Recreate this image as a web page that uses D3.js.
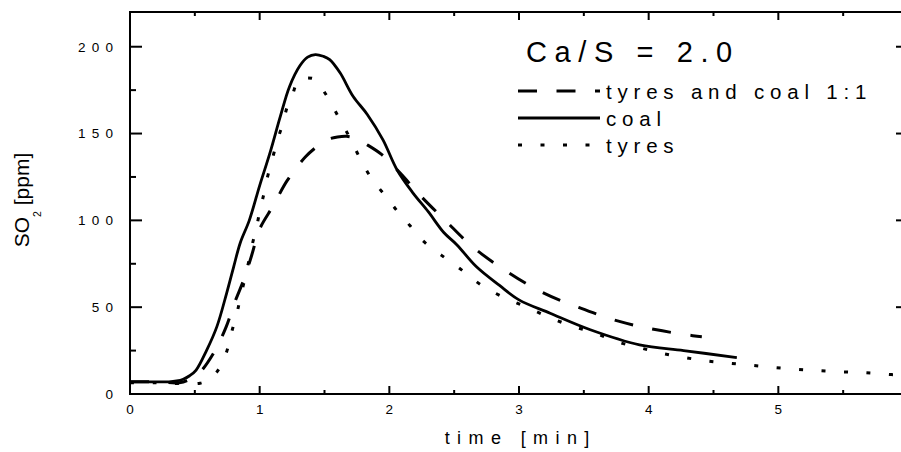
<!DOCTYPE html>
<html><head><meta charset="utf-8">
<script src="https://cdn.jsdelivr.net/npm/d3@7"></script>
<style>
body{margin:0;background:#fff}
svg{display:block}
text{font-family:"Liberation Sans",Arial,sans-serif;fill:#000}
</style>
</head><body>
<svg id="c" width="901" height="452"></svg>
<script>
// ---- data ----
const coalT = [0, 0.15, 0.3, 0.36, 0.41, 0.46, 0.51, 0.59, 0.67, 0.745, 0.8, 0.85, 0.92, 1.0, 1.08, 1.16, 1.23, 1.31, 1.37, 1.43, 1.49, 1.54, 1.62, 1.72, 1.83, 1.95, 2.06, 2.18, 2.3, 2.42, 2.52, 2.67, 2.85, 3.0, 3.24, 3.55, 3.93, 4.27, 4.68];
const coalY = [7, 7, 7, 7.5, 8.5, 10.5, 13.8, 25, 38.8, 58, 73.4, 87, 100, 120, 139, 160, 177, 189, 194, 195.5, 194.5, 192.6, 185, 171.5, 161, 146.5, 129, 116, 105, 93, 86, 73.4, 62.5, 54.2, 46.5, 37, 28.3, 25, 21];

const tyresT = [0, 0.2, 0.37, 0.54, 0.6, 0.668, 0.727, 0.763, 0.79, 0.823, 0.848, 0.9, 0.948, 0.977, 1.0, 1.028, 1.05, 1.08, 1.11, 1.145, 1.18, 1.21, 1.255, 1.3, 1.37, 1.43, 1.51, 1.575, 1.637, 1.696, 1.753, 1.81, 1.884, 1.974, 2.064, 2.16, 2.26, 2.4, 2.557, 2.706, 2.878, 3.058, 3.233, 3.405, 3.578, 3.75, 3.93, 4.1, 4.28, 4.447, 4.626, 4.8, 4.97, 5.15, 5.32, 5.5, 5.67, 5.85, 5.92];
const tyresY = [6.5, 6.5, 6, 6.2, 8, 12.5, 20.6, 28.8, 37.3, 45.9, 54.5, 71, 87.7, 96.4, 105, 113.8, 121.9, 130.5, 138.8, 148, 156, 164.8, 172.8, 181, 182, 181, 172.6, 164, 155.5, 147.5, 138.8, 130.5, 121.9, 113.8, 105.1, 96.9, 88.2, 80, 71.5, 62.9, 55.8, 50, 44.2, 39.2, 35.4, 30.2, 26.7, 23.5, 21, 19, 17.7, 16.5, 15.2, 14.2, 13.4, 12.7, 12.3, 11.3, 11];

const mixT = [0, 0.2, 0.38, 0.45, 0.527, 0.648, 0.74, 0.81, 0.882, 0.938, 1.0, 1.105, 1.213, 1.352, 1.45, 1.52, 1.6, 1.67, 1.75, 1.81, 1.94, 2.08, 2.25, 2.436, 2.637, 2.891, 3.18, 3.47, 3.76, 4.05, 4.34, 4.41];
const mixY = [7, 7, 6.5, 8, 11.5, 24, 38.4, 53.2, 66.7, 79.8, 95, 108.5, 123, 136.5, 143, 146.5, 148, 148.4, 147, 144.4, 138, 127.5, 113.4, 99.6, 85.1, 71.3, 58.5, 49.6, 42.1, 37.1, 33.6, 33];

const xMajor = [0, 1, 2, 3, 4, 5, 6];
const xMinor = [0.5, 1.5, 2.5, 3.5, 4.5, 5.5];
const xTickLabels = ["0", "1", "2", "3", "4", "5"];
const yMajor = [0, 50, 100, 150, 200];
const yMinor = [25, 75, 125, 175];
const yTickLabels = ["0", "50", "100", "150", "200"];
const seriesNames = ["tyres and coal 1:1", "coal", "tyres"];
const titleText = "Ca/S = 2.0";
const xTitle = "time [min]";

// ---- layout ----
const svg = d3.select("#c");
const L = 130, R = 908, T = 12, B = 394;
const x = d3.scaleLinear().domain([0, 6]).range([L, R]);
const y = d3.scaleLinear().domain([0, 220]).range([B, T]);

const styles = {
  mix:   {dash: "19,19.5", w: 3},
  coal:  {dash: null, w: 2.8},
  tyres: {dash: "4,18.5", w: 3}
};

svg.append("defs").append("clipPath").attr("id", "clip")
  .append("rect").attr("x", L).attr("y", T).attr("width", R - L).attr("height", B - T);

// frame
svg.append("rect").attr("x", L).attr("y", T).attr("width", R - L).attr("height", B - T)
  .attr("fill", "none").attr("stroke", "#000").attr("stroke-width", 2);

// tick labels
svg.selectAll(null).data(xTickLabels).join("text")
  .attr("x", d => x(+d)).attr("y", 414).attr("text-anchor", "middle")
  .attr("font-size", 13.5).text(d => d);
const yls = 6.2;
svg.selectAll(null).data(yTickLabels).join("text")
  .attr("x", 113 + yls).attr("y", d => y(+d) + 4.8).attr("text-anchor", "end")
  .attr("font-size", 13.5).attr("letter-spacing", yls).text(d => d);

// axis titles
svg.append("text").attr("x", 517 + 3.7).attr("y", 444).attr("text-anchor", "middle")
  .attr("font-size", 18).attr("letter-spacing", 7.4).text(xTitle);
const yt = svg.append("text").attr("transform", "translate(28.5,200) rotate(-90)")
  .attr("text-anchor", "middle").attr("font-size", 21);
yt.append("tspan").text("SO");
yt.append("tspan").attr("font-size", 10.5).attr("dy", 12).text("2");
yt.append("tspan").attr("dy", -12).text(" [ppm]");

// curves
const line = d3.line().x(d => x(d[0])).y(d => y(d[1])).curve(d3.curveCatmullRom.alpha(0.5));
const plot = svg.append("g").attr("clip-path", "url(#clip)");
function draw(T_, Y_, st) {
  plot.append("path").attr("d", line(T_.map((t, i) => [t, Y_[i]])))
    .attr("fill", "none").attr("stroke", "#000").attr("stroke-width", st.w)
    .attr("stroke-dasharray", st.dash);
}
draw(coalT, coalY, styles.coal);
draw(mixT, mixY, styles.mix);
draw(tyresT, tyresY, styles.tyres);

// title + legend
svg.append("text").attr("x", 526).attr("y", 61.5).attr("font-size", 29)
  .attr("letter-spacing", 7.6).text(titleText);
const legend = [
  {name: seriesNames[0], st: styles.mix, y: 91},
  {name: seriesNames[1], st: styles.coal, y: 118},
  {name: seriesNames[2], st: styles.tyres, y: 145}
];
legend.forEach(d => {
  svg.append("line").attr("x1", 518).attr("x2", 600).attr("y1", d.y).attr("y2", d.y)
    .attr("stroke", "#000").attr("stroke-width", d.st.w).attr("stroke-dasharray", d.st.dash);
  svg.append("text").attr("x", 606).attr("y", d.y + 8.3).attr("font-size", 20.5)
    .attr("letter-spacing", 5.8).text(d.name);
});

// ticks (inward on all four sides), positioned by the scales
function tick(x1, y1, x2, y2) {
  svg.append("line").attr("x1", x1).attr("y1", y1).attr("x2", x2).attr("y2", y2)
    .attr("stroke", "#000").attr("stroke-width", 2);
}
xMajor.forEach(v => { tick(x(v), B, x(v), B - 8); tick(x(v), T, x(v), T + 8); });
xMinor.forEach(v => { tick(x(v), B, x(v), B - 4); tick(x(v), T, x(v), T + 4); });
yMajor.forEach(v => { tick(L, y(v), L + 12, y(v)); tick(R, y(v), R - 12, y(v)); });
yMinor.forEach(v => { tick(L, y(v), L + 6, y(v)); tick(R, y(v), R - 6, y(v)); });
</script>
</body></html>
